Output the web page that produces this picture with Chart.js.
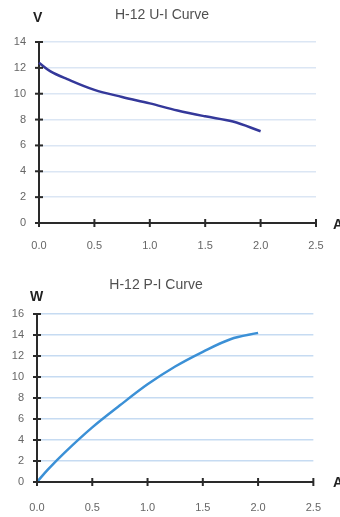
<!DOCTYPE html>
<html>
<head>
<meta charset="utf-8">
<script src="https://cdn.jsdelivr.net/npm/chart.js@4.4.1/dist/chart.umd.min.js"></script>
<style>
  body { margin: 0; background: #fff; font-family: "Liberation Sans", Arial, sans-serif; }
  .panel { position: absolute; left: 0; width: 340px; }
  .title { position: absolute; font-size: 14px; line-height: 16px; color: #505050; transform: translateX(-50%); white-space: nowrap; }
  .unit { position: absolute; font-size: 14px; line-height: 16px; font-weight: bold; color: #222; }
</style>
</head>
<body>

<div class="panel" style="top:0;height:258px">
  <canvas id="uiChart" width="340" height="258"></canvas>
</div>
<div class="panel" style="top:258px;height:259px">
  <canvas id="piChart" width="340" height="259"></canvas>
</div>

<div class="title" style="left:162px;top:6px">H-12 U-I Curve</div>
<div class="unit" style="left:33px;top:9px">V</div>
<div class="unit" style="left:333px;top:216px">A</div>

<div class="title" style="left:156px;top:276px">H-12 P-I Curve</div>
<div class="unit" style="left:30px;top:288px">W</div>
<div class="unit" style="left:333px;top:474px">A</div>

<script>
// current (A)
const currentA = [0, 0.1, 0.25, 0.5, 0.75, 1.0, 1.25, 1.5, 1.75, 2.0];
// voltage (V) for the U-I curve
const voltage = [12.4, 11.75, 11.15, 10.3, 9.75, 9.25, 8.7, 8.25, 7.85, 7.1];
// power (W) for the P-I curve
const power = [0, 1.2, 2.8, 5.2, 7.3, 9.3, 11.0, 12.4, 13.6, 14.2];

const xTicks = [0, 0.5, 1.0, 1.5, 2.0, 2.5];
const uiYTicks = [0, 2, 4, 6, 8, 10, 12, 14];
const piYTicks = [0, 2, 4, 6, 8, 10, 12, 14, 16];

const crossTicks = {
  id: "crossTicks",
  afterDatasetsDraw(chart) {
    const { ctx, scales: { x, y } } = chart;
    ctx.save();
    ctx.strokeStyle = "#2a2a2a";
    ctx.lineWidth = 2;
    x.ticks.forEach(t => {
      const px = x.getPixelForValue(t.value);
      ctx.beginPath();
      ctx.moveTo(px, y.bottom - 4);
      ctx.lineTo(px, y.bottom + 4);
      ctx.stroke();
    });
    y.ticks.forEach(t => {
      const py = y.getPixelForValue(t.value);
      ctx.beginPath();
      ctx.moveTo(x.left - 4, py);
      ctx.lineTo(x.left + 4, py);
      ctx.stroke();
    });
    ctx.restore();
  }
};

function makeChart(canvasId, values, yTicks, color, gridColor, box) {
  const ctx = document.getElementById(canvasId).getContext("2d");
  return new Chart(ctx, {
    type: "line",
    data: {
      datasets: [{
        data: currentA.map((a, i) => ({ x: a, y: values[i] })),
        borderColor: color,
        borderWidth: 2.5,
        pointRadius: 0,
        tension: 0.35,
        fill: false,
        clip: false
      }]
    },
    options: {
      responsive: false,
      animation: false,
      layout: { padding: { top: box.top, right: 340 - box.right, left: 0, bottom: 0 } },
      plugins: { legend: { display: false }, tooltip: { enabled: false } },
      scales: {
        x: {
          type: "linear",
          min: 0,
          max: 2.5,
          afterBuildTicks: s => { s.ticks = xTicks.map(v => ({ value: v })); },
          afterFit: s => { s.height = box.height - box.bottom; },
          grid: { display: false, drawTicks: false },
          border: { color: "#2a2a2a", width: 2 },
          ticks: {
            padding: box.xPad,
            color: "#666",
            font: { family: "Liberation Sans", size: 11 },
            callback: v => Number(v).toFixed(1)
          }
        },
        y: {
          min: 0,
          max: yTicks[yTicks.length - 1],
          afterBuildTicks: s => { s.ticks = yTicks.map(v => ({ value: v })); },
          afterFit: s => { s.width = box.left; },
          grid: { color: gridColor, lineWidth: 1.5, drawTicks: false },
          border: { color: "#2a2a2a", width: 2 },
          ticks: {
            padding: 13,
            color: "#666",
            font: { family: "Liberation Sans", size: 11 }
          }
        }
      }
    },
    plugins: [crossTicks]
  });
}

makeChart("uiChart", voltage, uiYTicks, "#34389a", "#dbe6f4",
  { left: 39, right: 316, top: 42, bottom: 223, height: 258, xPad: 16 });
makeChart("piChart", power, piYTicks, "#3b90d6", "#c6dbf2",
  { left: 37, right: 317, top: 56, bottom: 224, height: 259, xPad: 19 });
</script>
</body>
</html>
